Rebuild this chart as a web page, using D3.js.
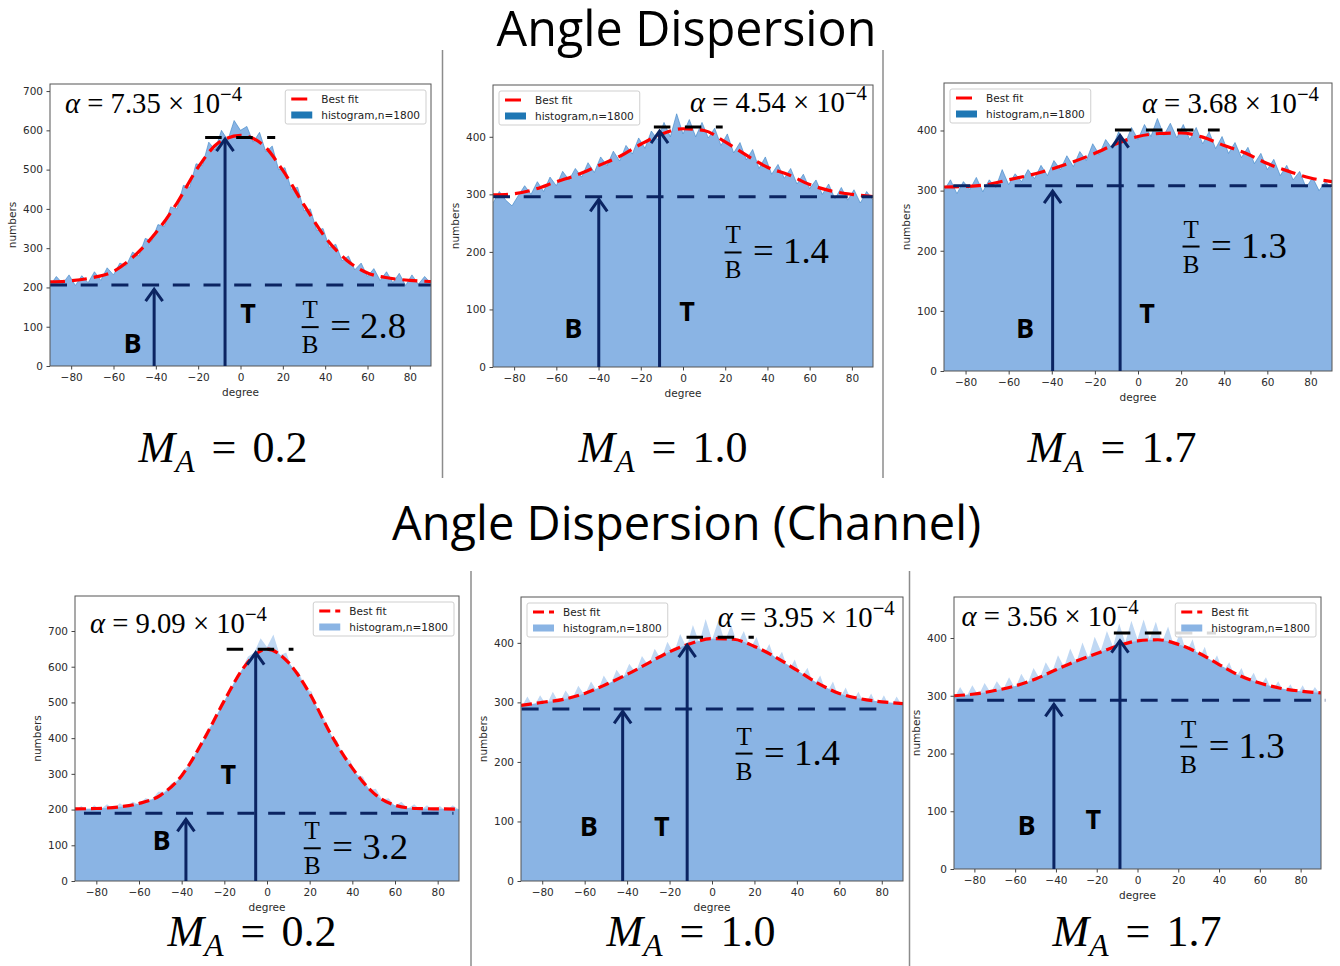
<!DOCTYPE html>
<html>
<head>
<meta charset="utf-8">
<script src="https://cdn.jsdelivr.net/npm/d3@7"></script>
<style>
  body { margin: 0; background: #fff; }
  svg { display: block; }
</style>
</head>
<body>
<div id="chart"></div>
<script>
// ---- data ----
// fitted curve, sampled every 10 degrees
var fitX = [-90, -80, -70, -60, -50, -40, -30, -20, -10, 0, 10, 20, 30, 40, 50, 60, 70, 80, 90];
var fitMA02 = [214, 217, 225, 241, 281, 339, 415, 506, 570, 587, 566, 498, 410, 328, 270, 237, 224, 218, 215];
var fitMA10 = [299, 301, 309, 322, 334, 350, 366, 387, 405, 414, 411, 391, 368, 347, 334, 317, 306, 300, 296];
var fitMA17 = [306, 307, 310, 318, 326, 336, 348, 362, 378, 390, 395, 396, 389, 375, 362, 345, 332, 321, 315];
var fitChMA02 = [202, 203, 207, 217, 240, 295, 392, 505, 605, 649, 612, 525, 410, 316, 246, 212, 203, 202, 201];
var fitChMA10 = [295, 300, 305, 315, 330, 347, 366, 385, 399, 407, 406, 394, 376, 354, 332, 315, 306, 301, 298];
var fitChMA17 = [300, 303, 309, 317, 329, 345, 360, 373, 386, 395, 397, 389, 374, 354, 335, 322, 313, 308, 305];

// histogram tops, every 3 degrees from -90 to 90
var histMA02 = [205, 228, 210, 232, 205, 230, 212, 240, 218, 250, 232, 262, 255, 290, 280, 325, 318, 360, 355, 405,
  400, 460, 455, 515, 510, 570, 550, 600, 575, 625, 600, 610, 570, 595, 545, 560, 500, 505, 450, 455,
  395, 400, 345, 350, 302, 310, 268, 280, 245, 262, 228, 248, 218, 240, 212, 236, 205, 232, 208, 228, 210];
var histMA10 = [285, 305, 290, 280, 298, 315, 300, 322, 305, 330, 315, 340, 325, 345, 330, 355, 338, 365, 350, 375,
  358, 385, 370, 398, 380, 410, 395, 425, 400, 440, 405, 430, 400, 425, 398, 415, 385, 405, 372, 390,
  360, 378, 345, 365, 335, 352, 328, 345, 318, 335, 310, 325, 300, 318, 292, 312, 290, 308, 285, 305, 290];
var histMA17 = [300, 318, 295, 315, 302, 322, 298, 318, 305, 335, 310, 328, 315, 335, 320, 342, 325, 350, 335, 358,
  340, 365, 350, 378, 360, 385, 370, 398, 378, 405, 385, 410, 390, 420, 392, 412, 388, 410, 385, 405,
  378, 398, 370, 390, 362, 380, 355, 372, 345, 362, 335, 352, 325, 342, 318, 332, 305, 322, 300, 315, 302];
var histChMA02 = [198, 210, 196, 212, 200, 215, 202, 218, 206, 222, 214, 232, 228, 250, 250, 272, 282, 312, 328, 365,
  385, 430, 445, 495, 515, 565, 590, 628, 640, 680, 655, 690, 632, 640, 590, 585, 540, 530, 470, 455,
  405, 392, 345, 338, 298, 292, 255, 258, 228, 232, 210, 222, 203, 215, 198, 212, 196, 210, 195, 212, 200];
var histChMA10 = [290, 310, 292, 312, 295, 318, 298, 320, 305, 328, 312, 335, 318, 345, 328, 355, 340, 365, 350, 378,
  362, 390, 372, 402, 382, 415, 392, 430, 400, 440, 405, 438, 402, 430, 398, 420, 390, 410, 378, 398,
  368, 385, 352, 372, 342, 358, 328, 345, 315, 335, 305, 325, 300, 318, 296, 315, 292, 312, 290, 310, 292];
var histChMA17 = [295, 315, 298, 318, 300, 322, 305, 325, 310, 332, 312, 338, 320, 348, 330, 358, 340, 370, 350, 382,
  358, 392, 365, 402, 378, 412, 385, 425, 392, 430, 398, 432, 398, 428, 392, 420, 385, 410, 375, 398,
  362, 385, 350, 370, 342, 358, 330, 348, 322, 340, 315, 332, 308, 325, 305, 320, 300, 318, 298, 315, 300];

// B / T annotations (degrees, counts)
var bLevel = [206, 296, 308, 189.5, 289, 292];
var bLineFrom = [-90, -90, -85.7, -85.8, -89.7, -88.8];
var bLineTo = [90, 90, 90, 87.4, 83.7, 92.1];
var tLevel = [582, 417, 401, 649, 409.5, 408.7];
var tLineFrom = [-16.7, -13.8, -10.7, -18.9, -12, -11.6];
var tLineTo = [16.4, 18.8, 37.9, 12.4, 19.7, 38.5];
var bArrowX = [-40.8, -39.9, -39.6, -38, -42.1, -41];
var bArrowTop = [198, 293, 301, 175.5, 286.5, 287];
var tArrowX = [-7.3, -11.1, -8.3, -5.3, -11.7, -8.6];
var tArrowTop = [580, 411.6, 393, 642, 398, 397];
var ratios = ["2.8", "1.4", "1.3", "3.2", "1.4", "1.3"];
var alphaMantissa = ["7.35", "4.54", "3.68", "9.09", "3.95", "3.56"];
var maValues = ["0.2", "1.0", "1.7", "0.2", "1.0", "1.7"];
var xTicks = [-80, -60, -40, -20, 0, 20, 40, 60, 80];
var yTicksTall = [0, 100, 200, 300, 400, 500, 600, 700];
var yTicksShort = [0, 100, 200, 300, 400];
var titles = ["Angle Dispersion", "Angle Dispersion (Channel)"];

var fits = [fitMA02, fitMA10, fitMA17, fitChMA02, fitChMA10, fitChMA17];
var hists = [histMA02, histMA10, histMA17, histChMA02, histChMA10, histChMA17];
var histX = d3.range(-90, 91, 3);

// ---- layout ----
var panels = [
  {left: 50, top: 84, w: 381, h: 282, ymax: 718, yTicks: yTicksTall, row: 0, legend: "right",
    bLabel: [-51, 61], tLabel: [3.6, 135], frac: [32.9, 99], alphaAt: [-82.9, 644], maX: 223, maY: 462},
  {left: 493, top: 85, w: 380, h: 282, ymax: 490, yTicks: yTicksShort, row: 0, legend: "left",
    bLabel: [-52, 68], tLabel: [1.9, 99], frac: [23.7, 199], alphaAt: [3.3, 443], maX: 663, maY: 462},
  {left: 944, top: 83, w: 388, h: 288, ymax: 479, yTicks: yTicksShort, row: 0, legend: "left",
    bLabel: [-52.4, 71.6], tLabel: [4.2, 96.5], frac: [24.6, 207], alphaAt: [1.8, 429], maX: 1112, maY: 462},
  {left: 75, top: 596, w: 384, h: 285, ymax: 798, yTicks: yTicksTall, row: 1, legend: "right",
    bLabel: [-49.4, 115], tLabel: [-18.1, 302], frac: [21.2, 91.6], alphaAt: [-83, 694], maX: 252, maY: 946},
  {left: 521, top: 597, w: 382, h: 284, ymax: 477, yTicks: yTicksShort, row: 1, legend: "left",
    bLabel: [-58, 93.5], tLabel: [-23.7, 93.5], frac: [15.1, 214], alphaAt: [2.7, 426], maX: 691, maY: 946},
  {left: 954, top: 597, w: 367, h: 272, ymax: 471, yTicks: yTicksShort, row: 1, legend: "right",
    bLabel: [-54.4, 76.7], tLabel: [-21.7, 87], frac: [25.1, 212], alphaAt: [-86.3, 420], maX: 1137, maY: 946}
];

var navy = "#0b2462";
var fillBlue = "#8ab4e4";
var serif = "'Liberation Serif', 'DejaVu Serif', serif";

var svg = d3.select("#chart").append("svg")
  .attr("width", 1340)
  .attr("height", 966)
  .style("font-family", "'DejaVu Sans', sans-serif");

svg.append("rect").attr("width", 1340).attr("height", 966).attr("fill", "#fff");

function fitText(sel, target) {
  var w = sel.node().getComputedTextLength();
  var fs = parseFloat(sel.attr("font-size"));
  sel.attr("font-size", fs * target / w);
}

function minus(v) {
  return v < 0 ? "\u2212" + Math.abs(v) : String(v);
}

// titles
var t1 = svg.append("text").attr("x", 686.5).attr("y", 46).attr("text-anchor", "middle")
  .attr("font-family", "'Open Sans', 'Noto Sans', sans-serif").attr("font-size", 48).attr("fill", "#000")
  .text(titles[0]);
fitText(t1, 380);
var t2 = svg.append("text").attr("x", 686.5).attr("y", 540).attr("text-anchor", "middle")
  .attr("font-family", "'Open Sans', 'Noto Sans', sans-serif").attr("font-size", 48).attr("fill", "#000")
  .text(titles[1]);
fitText(t2, 589);

// separators
[[442.5, 50, 478], [883, 50, 478], [471, 571, 966], [909.5, 571, 966]].forEach(function(s) {
  svg.append("line").attr("x1", s[0]).attr("x2", s[0]).attr("y1", s[1]).attr("y2", s[2])
    .attr("stroke", "#8c8c8c").attr("stroke-width", 1.5);
});

panels.forEach(function(p, i) {
  var g = svg.append("g").attr("transform", "translate(" + p.left + "," + p.top + ")");
  var x = d3.scaleLinear().domain([-90, 90]).range([0, p.w]);
  var y = d3.scaleLinear().domain([0, p.ymax]).range([p.h, 0]);

  var clipId = "clip" + i;
  g.append("clipPath").attr("id", clipId).append("rect").attr("width", p.w).attr("height", p.h);
  var plot = g.append("g").attr("clip-path", "url(#" + clipId + ")");

  var hist = hists[i], fit = fits[i];

  // histogram
  var histArea = d3.area()
    .x(function(d, j) { return x(histX[j]); })
    .y0(y(0))
    .y1(function(d) { return y(d); });
  var histTop = d3.line()
    .x(function(d, j) { return x(histX[j]); })
    .y(function(d) { return y(d); });

  if (p.row === 0) {
    plot.append("path").datum(hist).attr("d", histArea).attr("fill", fillBlue);
    plot.append("path").datum(hist).attr("d", histTop)
      .attr("fill", "none").attr("stroke", "#3a84c6").attr("stroke-width", 0.6);
  } else {
    plot.append("path").datum(hist).attr("d", histArea).attr("fill", "#c0d8f3");
    var fitArea = d3.area()
      .x(function(d, j) { return x(fitX[j]); })
      .y0(y(0))
      .y1(function(d) { return y(d); })
      .curve(d3.curveMonotoneX);
    plot.append("path").datum(fit).attr("d", fitArea).attr("fill", fillBlue);
  }

  // B level dashed line
  g.append("line")
    .attr("x1", x(bLineFrom[i])).attr("x2", x(bLineTo[i]))
    .attr("y1", y(bLevel[i])).attr("y2", y(bLevel[i]))
    .attr("stroke", navy).attr("stroke-width", 3).attr("stroke-dasharray", "17,13.7");

  // fitted curve
  var fitLine = d3.line()
    .x(function(d, j) { return x(fitX[j]); })
    .y(function(d) { return y(d); })
    .curve(d3.curveMonotoneX);
  plot.append("path").datum(fit).attr("d", fitLine)
    .attr("fill", "none").attr("stroke", "#ff0000").attr("stroke-width", 3.2)
    .attr("stroke-dasharray", p.row === 0 ? "15,7" : "11,5");

  // T level dashed line
  g.append("line")
    .attr("x1", x(tLineFrom[i])).attr("x2", x(tLineTo[i]))
    .attr("y1", y(tLevel[i])).attr("y2", y(tLevel[i]))
    .attr("stroke", "#000").attr("stroke-width", 3).attr("stroke-dasharray", "16.5,14.5");

  // frame
  g.append("rect").attr("width", p.w).attr("height", p.h)
    .attr("fill", "none").attr("stroke", "#555").attr("stroke-width", 1);

  // arrows
  [[bArrowX[i], bArrowTop[i]], [tArrowX[i], tArrowTop[i]]].forEach(function(a) {
    var ax = x(a[0]), ay = y(a[1]);
    g.append("line").attr("x1", ax).attr("x2", ax).attr("y1", p.h).attr("y2", ay + 1)
      .attr("stroke", navy).attr("stroke-width", 3);
    g.append("path")
      .attr("d", "M" + (ax - 8.5) + "," + (ay + 13) + "L" + ax + "," + (ay + 1) + "L" + (ax + 8.5) + "," + (ay + 13))
      .attr("fill", "none").attr("stroke", navy).attr("stroke-width", 3).attr("stroke-linejoin", "miter");
  });

  // axes
  var xAxis = g.append("g").attr("transform", "translate(0," + p.h + ")")
    .call(d3.axisBottom(x).tickValues(xTicks).tickSize(3.5).tickPadding(4.5).tickFormat(minus));
  var yAxis = g.append("g")
    .call(d3.axisLeft(y).tickValues(p.yTicks).tickSize(3.5).tickPadding(3.5));
  [xAxis, yAxis].forEach(function(ax) {
    ax.select(".domain").remove();
    ax.selectAll("line").attr("stroke", "#444");
    ax.selectAll("text").attr("font-size", 10.5).attr("fill", "#2b2b2b")
      .attr("font-family", "'DejaVu Sans', sans-serif");
  });

  g.append("text").attr("x", p.w / 2).attr("y", p.h + 30).attr("text-anchor", "middle")
    .attr("font-size", 10.5).attr("fill", "#2b2b2b").text("degree");
  g.append("text").attr("transform", "translate(-34," + (p.h / 2) + ") rotate(-90)")
    .attr("text-anchor", "middle").attr("font-size", 10.5).attr("fill", "#2b2b2b").text("numbers");

  // B and T labels
  [["B", p.bLabel], ["T", p.tLabel]].forEach(function(l) {
    g.append("text").attr("x", x(l[1][0])).attr("y", y(l[1][1]))
      .attr("text-anchor", "middle").attr("dominant-baseline", "central")
      .attr("font-family", "'Open Sans', 'DejaVu Sans', sans-serif").attr("font-weight", "bold")
      .attr("font-size", 27).attr("fill", "#000").text(l[0]);
  });

  // T/B fraction
  var fx = x(p.frac[0]), fy = y(p.frac[1]);
  g.append("text").attr("x", fx).attr("y", fy - 9).attr("text-anchor", "middle")
    .attr("font-family", serif).attr("font-size", 25).attr("fill", "#000").text("T");
  g.append("line").attr("x1", fx - 8.5).attr("x2", fx + 8.5).attr("y1", fy).attr("y2", fy)
    .attr("stroke", "#000").attr("stroke-width", 2);
  g.append("text").attr("x", fx).attr("y", fy + 26).attr("text-anchor", "middle")
    .attr("font-family", serif).attr("font-size", 25).attr("fill", "#000").text("B");
  var rt = g.append("text").attr("x", fx + 20).attr("y", fy + 11)
    .attr("font-family", serif).attr("font-size", 33).attr("fill", "#000")
    .text("= " + ratios[i]);
  fitText(rt, 76);

  // alpha label
  var at = g.append("text").attr("x", x(p.alphaAt[0])).attr("y", y(p.alphaAt[1]))
    .attr("font-family", serif).attr("font-size", 25).attr("fill", "#000");
  at.append("tspan").attr("font-style", "italic").text("\u03b1");
  at.append("tspan").text(" = " + alphaMantissa[i] + " \u00d7 10");
  at.append("tspan").attr("font-size", "0.72em").attr("dy", "-0.6em").text("\u22124");
  fitText(at, 177);

  // legend
  var lg = g.append("g");
  var box = lg.append("rect").attr("height", 34).attr("rx", 2)
    .attr("fill", "#fff").attr("fill-opacity", 0.85).attr("stroke", "#cfcfcf");
  lg.append("line").attr("x1", 6).attr("x2", 27).attr("y1", 9).attr("y2", 9)
    .attr("stroke", "#ff0000").attr("stroke-width", 3)
    .attr("stroke-dasharray", p.row === 0 ? "16,7" : "11,5");
  lg.append("text").attr("x", 36).attr("y", 13).attr("font-size", 10.5).attr("fill", "#222").text("Best fit");
  lg.append("rect").attr("x", 6).attr("y", 21.5).attr("width", 21).attr("height", 7)
    .attr("fill", p.row === 0 ? "#1f77b4" : fillBlue);
  var lt = lg.append("text").attr("x", 36).attr("y", 29).attr("font-size", 10.5).attr("fill", "#222")
    .text("histogram,n=1800");
  var lw = lt.node().getComputedTextLength() + 42;
  box.attr("width", lw);
  var lx = p.legend === "right" ? p.w - lw - 5 : 6;
  lg.attr("transform", "translate(" + lx + ",6)");

  // M_A label
  var ma = svg.append("text").attr("x", p.maX).attr("y", p.maY).attr("text-anchor", "middle")
    .attr("font-family", serif).attr("font-size", 44).attr("fill", "#000");
  ma.append("tspan").attr("font-style", "italic").text("M");
  ma.append("tspan").attr("font-style", "italic").attr("font-size", "0.72em").attr("dy", "0.33em").text("A");
  ma.append("tspan").attr("dx", 17).attr("dy", "-0.24em").text("=");
  ma.append("tspan").attr("dx", 16).text(maValues[i]);
});
</script>
</body>
</html>
